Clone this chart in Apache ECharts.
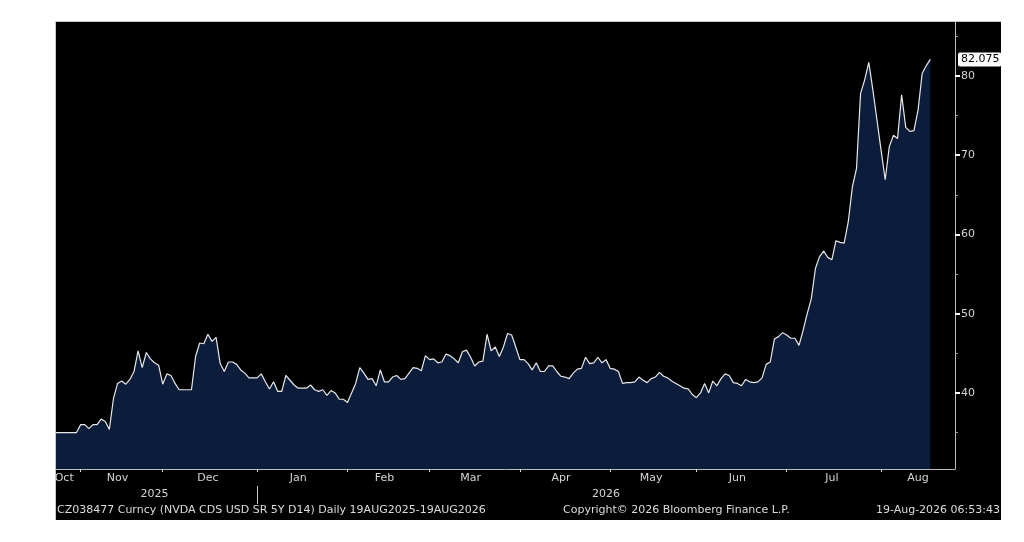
<!DOCTYPE html>
<html>
<head>
<meta charset="utf-8">
<script src="https://cdn.jsdelivr.net/npm/echarts@6/dist/echarts.min.js"></script>
<style>
  html, body { margin: 0; padding: 0; background: #fff; }
  #panel { position: absolute; left: 55px; top: 21px; width: 945px; height: 498px;
           background: #000; border-top: 1px solid #c8c8c8; border-left: 1px solid #c8c8c8; }
  #chart { position: absolute; left: 0; top: 0; width: 1024px; height: 542px; }
</style>
</head>
<body>
<div id="panel"></div>
<div id="chart"></div>
<script>
// first trading day shown, and empty weekdays kept on the right of the axis
var startDate = '2025-10-24';
var padDays = 6;

var monthNames = ['Jan', 'Feb', 'Mar', 'Apr', 'May', 'Jun', 'Jul', 'Aug', 'Sep', 'Oct', 'Nov', 'Dec'];
var yMajorTicks = [40, 50, 60, 70, 80];
var yMinorTicks = [35, 45, 55, 65, 75, 85];
var yMin = 30.4;
var yMax = 86.8;

// NVDA CDS USD SR 5Y, daily close
var cdsValues = [
  35.0, 35.0, 35.0, 35.0, 35.0, 35.0, 36.0, 36.0, 35.5, 36.0,
  36.0, 36.7, 36.4, 35.4, 39.3, 41.2, 41.5, 41.1, 41.7, 42.7,
  45.3, 43.2, 45.1, 44.3, 43.8, 43.5, 41.1, 42.4, 42.2, 41.2,
  40.4, 40.4, 40.4, 40.4, 44.6, 46.3, 46.2, 47.4, 46.5, 47.0,
  43.7, 42.7, 43.9, 43.9, 43.6, 42.9, 42.5, 41.9, 41.9, 41.9,
  42.4, 41.4, 40.5, 41.4, 40.2, 40.2, 42.2, 41.6, 41.0, 40.6,
  40.6, 40.6, 41.0, 40.4, 40.2, 40.4, 39.7, 40.3, 40.0, 39.2,
  39.2, 38.8, 40.0, 41.2, 43.2, 42.5, 41.7, 41.8, 40.9, 42.9,
  41.4, 41.4, 42.0, 42.2, 41.7, 41.8, 42.5, 43.2, 43.1, 42.8,
  44.7, 44.2, 44.3, 43.8, 43.9, 44.9, 44.7, 44.3, 43.8, 45.2,
  45.4, 44.5, 43.4, 43.9, 44.0, 47.4, 45.3, 45.8, 44.6, 45.8,
  47.5, 47.3, 45.8, 44.2, 44.2, 43.7, 42.9, 43.8, 42.7, 42.7,
  43.4, 43.4, 42.7, 42.1, 42.0, 41.8, 42.5, 43.0, 43.1, 44.5,
  43.7, 43.8, 44.5, 43.8, 44.2, 43.1, 43.0, 42.7, 41.2, 41.3,
  41.3, 41.4, 42.0, 41.6, 41.3, 41.8, 42.0, 42.6, 42.1, 41.9,
  41.5, 41.2, 40.9, 40.6, 40.5, 39.8, 39.4, 40.0, 41.2, 40.0,
  41.5, 40.9, 41.8, 42.4, 42.2, 41.3, 41.2, 40.9, 41.7, 41.4,
  41.3, 41.4, 41.9, 43.6, 43.9, 46.8, 47.1, 47.6, 47.3, 46.9,
  46.9, 46.0, 47.9, 50.0, 51.9, 55.7, 57.2, 57.9, 57.1, 56.8,
  59.2, 59.0, 58.9, 61.6, 66.0, 68.3, 77.8, 79.5, 81.7, 78.2,
  74.4, 70.6, 66.9, 71.1, 72.5, 72.1, 77.6, 73.5, 73.0, 73.1,
  75.7, 80.3, 81.3, 82.075
];
var lastValue = cdsValues[cdsValues.length - 1];

var footerLeft = 'CZ038477 Curncy (NVDA CDS USD SR 5Y D14) Daily 19AUG2025-19AUG2026';
var footerMid = 'Copyright\u00a9 2026 Bloomberg Finance L.P.';
var footerRight = '19-Aug-2026 06:53:43';

// weekday calendar for the category axis
function weekdays(start, count) {
  var out = [];
  var d = new Date(start + 'T12:00:00Z');
  while (out.length < count) {
    var wd = d.getUTCDay();
    if (wd !== 0 && wd !== 6) out.push(d.toISOString().slice(0, 10));
    d.setUTCDate(d.getUTCDate() + 1);
  }
  return out;
}

var dates = weekdays(startDate, cdsValues.length + padDays);

// index ranges per month and per year
function groupBy(keyFn) {
  var groups = [];
  dates.forEach(function (d, i) {
    var k = keyFn(d);
    var g = groups[groups.length - 1];
    if (!g || g.key !== k) groups.push({ key: k, first: i, last: i });
    else g.last = i;
  });
  return groups;
}
var months = groupBy(function (d) { return d.slice(0, 7); });
var years = groupBy(function (d) { return d.slice(0, 4); });

var monthStart = {}, monthMid = {}, yearStart = {}, yearMid = {};
months.forEach(function (m, k) {
  if (k > 0) monthStart[m.first] = true;
  monthMid[Math.floor((m.first + m.last) / 2)] = monthNames[+m.key.slice(5, 7) - 1];
});
years.forEach(function (y, k) {
  if (k > 0) yearStart[y.first] = true;
  yearMid[Math.floor((y.first + y.last) / 2)] = y.key;
});

var labelColor = '#d4d4d4';
var axisColor = '#bdbdbd';

var chart = echarts.init(document.getElementById('chart'));

chart.setOption({
  animation: false,
  backgroundColor: 'transparent',
  textStyle: { fontFamily: 'DejaVu Sans' },
  grid: { left: 56, right: 69, top: 22, bottom: 73 },
  xAxis: [{
    type: 'category',
    data: dates,
    boundaryGap: false,
    axisLine: { lineStyle: { color: axisColor, width: 1 } },
    axisTick: {
      interval: function (i) { return !!monthStart[i]; },
      length: 3,
      lineStyle: { color: '#e0e0e0' }
    },
    axisLabel: {
      interval: function (i) { return monthMid[i] !== undefined; },
      formatter: function (v, i) { return monthMid[i] || ''; },
      color: labelColor,
      fontSize: 11,
      margin: 4
    },
    splitLine: { show: false }
  }, {
    type: 'category',
    data: dates,
    boundaryGap: false,
    position: 'bottom',
    offset: 17,
    axisLine: { show: false },
    axisTick: {
      interval: function (i) { return !!yearStart[i]; },
      length: 18,
      lineStyle: { color: '#c8c8c8' }
    },
    axisLabel: {
      interval: function (i) { return yearMid[i] !== undefined; },
      formatter: function (v, i) { return yearMid[i] || ''; },
      color: labelColor,
      fontSize: 11,
      margin: 3
    },
    splitLine: { show: false }
  }],
  yAxis: [{
    type: 'value',
    position: 'right',
    min: yMin,
    max: yMax,
    axisLine: { show: true, lineStyle: { color: axisColor, width: 1 } },
    axisTick: {
      show: true,
      customValues: yMajorTicks,
      length: 5,
      lineStyle: { color: '#ffffff', width: 2 }
    },
    axisLabel: {
      customValues: yMajorTicks,
      color: labelColor,
      fontSize: 11,
      margin: 6
    },
    splitLine: { show: false }
  }, {
    type: 'value',
    position: 'right',
    min: yMin,
    max: yMax,
    axisLine: { show: false },
    axisTick: {
      show: true,
      customValues: yMinorTicks,
      length: 3,
      lineStyle: { color: '#9a9a9a', width: 1 }
    },
    axisLabel: { show: false },
    splitLine: { show: false }
  }],
  series: [{
    type: 'line',
    data: cdsValues,
    symbol: 'none',
    lineStyle: { color: '#e8e8e8', width: 1.2 },
    areaStyle: { color: '#0c1d3b', opacity: 1 },
    markLine: {
      silent: true,
      symbol: ['none', 'none'],
      lineStyle: { color: 'rgba(0,0,0,0)', width: 1, type: 'solid' },
      data: [{ yAxis: lastValue }],
      label: {
        show: true,
        position: 'end',
        distance: 3,
        formatter: function () { return lastValue.toFixed(3); },
        backgroundColor: '#ffffff',
        borderRadius: 2,
        color: '#000',
        fontSize: 11,
        padding: [2, 2, 1, 3]
      }
    }
  }],
  graphic: [
    { type: 'text', left: 57, top: 505,
      style: { text: footerLeft, fill: '#dcdcdc', font: '11px "DejaVu Sans"' } },
    { type: 'text', left: 563, top: 505,
      style: { text: footerMid, fill: '#dcdcdc', font: '11px "DejaVu Sans"' } },
    { type: 'text', right: 24, top: 505,
      style: { text: footerRight, fill: '#dcdcdc', font: '11px "DejaVu Sans"' } }
  ]
});
</script>
</body>
</html>
